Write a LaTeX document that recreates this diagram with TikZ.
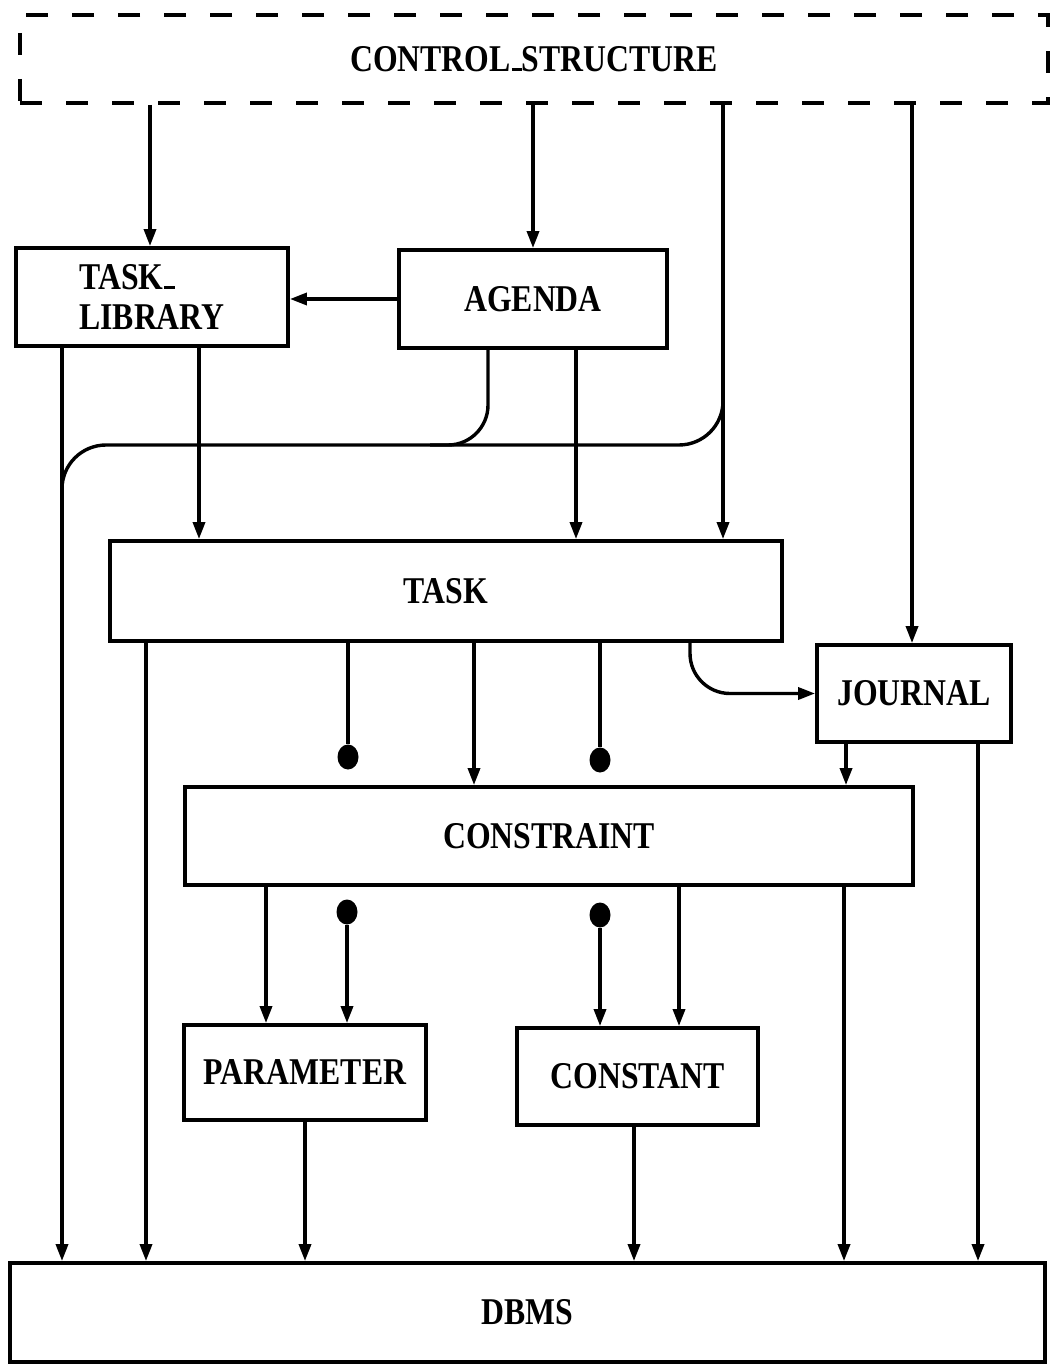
\documentclass[tikz,border=0pt]{standalone}
\usepackage{fontspec}
\newfontfamily\labfont{Liberation Serif}
\usetikzlibrary{arrows.meta,shapes.geometric}
% condensed bold labels
\newcommand\lbl[1]{\scalebox{0.84}[1]{#1}}
\newcommand\usc{\kern0.03em\rule{0.32em}{0.09em}}
\begin{document}
\begin{tikzpicture}[x=0.5pt,y=-0.5pt,
  box/.style={draw, line width=1.9pt, rectangle, inner sep=0pt,
    font=\labfont\bfseries\fontsize{18.9}{20}\selectfont},
  ln/.style={line width=1.7pt},
  arr/.style={ln, -{Triangle[length=8.5pt,width=6pt]}},
  dot/.style={ellipse, fill, inner sep=0pt, minimum width=10.5pt, minimum height=12.5pt}]
\useasboundingbox (0,0) rectangle (1051,1368);

% modules
\node[box, dashed, dash pattern=on 11pt off 12pt, minimum width=514pt, minimum height=44pt]
  (ctrl) at (534,59) {\lbl{CONTROL\usc STRUCTURE}};
\node[box, minimum width=136pt, minimum height=49pt, align=left]
  (lib) at (152,297) {\lbl{TASK\usc}\\\lbl{LIBRARY}};
\node[box, minimum width=134pt, minimum height=49pt] (agenda) at (533,299) {\lbl{AGENDA}};
\node[box, minimum width=336pt, minimum height=50pt] (task) at (446,591) {\lbl{TASK}};
\node[box, minimum width=97pt, minimum height=48.5pt] (journal) at (914,693.5) {\lbl{JOURNAL}};
\node[box, minimum width=364pt, minimum height=49pt] (cons) at (549,836) {\lbl{CONSTRAINT}};
\node[box, minimum width=121pt, minimum height=47.5pt] (param) at (305,1072.5) {\lbl{PARAMETER}};
\node[box, minimum width=120.5pt, minimum height=48.5pt] (const) at (637.5,1076.5) {\lbl{CONSTANT}};
\node[box, minimum width=517.5pt, minimum height=49.5pt] (dbms) at (527.5,1312.5) {\lbl{DBMS}};

% dots
\node[dot] (d1) at (348,757) {};
\node[dot] (d2) at (600,760) {};
\node[dot] (d3) at (347,912) {};
\node[dot] (d4) at (600,915) {};

% branch points
\coordinate (br) at (723,380);
\coordinate (mg) at (62,560);

% control structure outputs
\draw[arr] (150,0 |- ctrl.south) -- (150,0 |- lib.north);
\draw[arr] (533,0 |- ctrl.south) -- (533,0 |- agenda.north);
\draw[arr] (723,0 |- ctrl.south) -- (723,0 |- task.north);
\draw[arr] (912,0 |- ctrl.south) -- (912,0 |- journal.north);
\draw[ln, rounded corners=22pt] (br) |- (62,445) -- (mg);

% agenda
\draw[arr] (agenda.west) -- (agenda.west -| lib.east);
\draw[ln, rounded corners=20pt] (488,0 |- agenda.south) |- (430,445);
\draw[arr] (576,0 |- agenda.south) -- (576,0 |- task.north);

% task library
\draw[arr] (62,0 |- lib.south) -- (62,0 |- dbms.north);
\draw[arr] (199,0 |- lib.south) -- (199,0 |- task.north);

% task
\draw[arr] (146,0 |- task.south) -- (146,0 |- dbms.north);
\draw[ln] (348,0 |- task.south) -- (d1);
\draw[arr] (474,0 |- task.south) -- (474,0 |- cons.north);
\draw[ln] (600,0 |- task.south) -- (d2);
\draw[arr, rounded corners=20pt] (690,0 |- task.south) |- (journal.west);

% journal
\draw[arr] (846,0 |- journal.south) -- (846,0 |- cons.north);
\draw[arr] (978,0 |- journal.south) -- (978,0 |- dbms.north);

% constraint
\draw[arr] (266,0 |- cons.south) -- (266,0 |- param.north);
\draw[arr] (d3) -- (347,0 |- param.north);
\draw[arr] (d4) -- (600,0 |- const.north);
\draw[arr] (679,0 |- cons.south) -- (679,0 |- const.north);
\draw[arr] (844,0 |- cons.south) -- (844,0 |- dbms.north);

% parameter and constant
\draw[arr] (305,0 |- param.south) -- (305,0 |- dbms.north);
\draw[arr] (634,0 |- const.south) -- (634,0 |- dbms.north);
\end{tikzpicture}
\end{document}
